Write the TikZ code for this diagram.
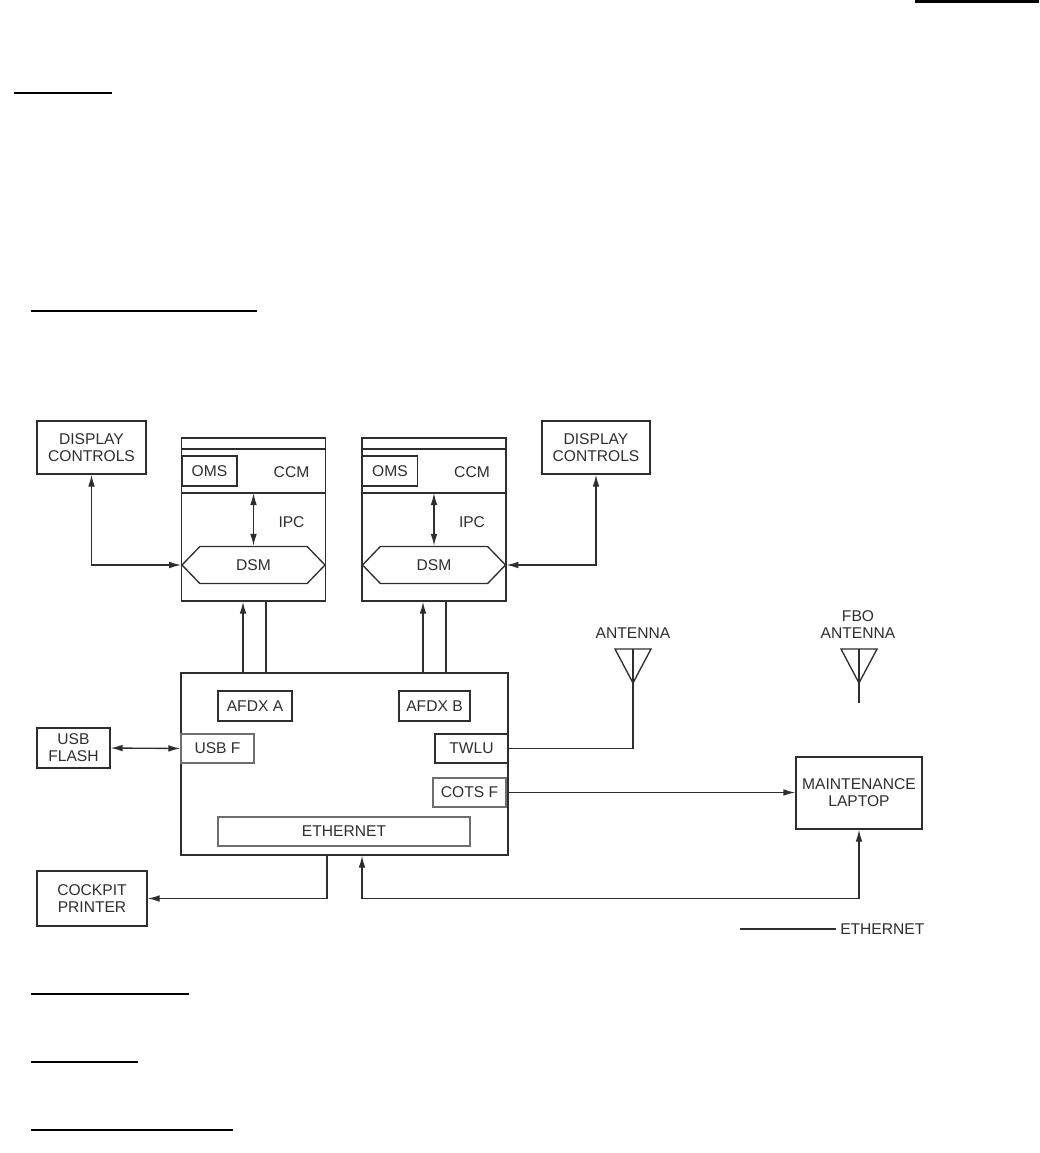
\documentclass[tikz,border=0pt]{standalone}
\usepackage{fontspec}
\setmainfont{Liberation Sans}
\usetikzlibrary{arrows.meta,shapes.symbols}
\definecolor{ink}{HTML}{2E2E2E}
\definecolor{pale}{HTML}{6E6E6E}
\newdimen\pxu \pxu=0.75pt
\newcommand\lab{\fontsize{11.7}{12.6}\selectfont}
\tikzset{
  link/.style={draw=ink, line width=1pt},
  arr/.style={link, -{Latex[length=9pt,width=5pt]}},
  both/.style={link, {Latex[length=9pt,width=5pt]}-{Latex[length=9pt,width=5pt]}},
  unit/.style={draw=ink, line width=1pt, inner sep=0pt, align=center, font=\lab, text=ink},
  port/.style={unit, draw=pale},
  sz/.style args={#1x#2}{minimum width=#1\pxu, minimum height=#2\pxu},
  txt/.style={font=\lab, text=ink, inner sep=0pt, align=center},
  dsm/.style={unit, shape=signal, signal to=west and east, signal pointer angle=92,
    minimum width=143\pxu, minimum height=37\pxu},
  bar/.style={draw=black, line width=1.6pt},
}
\begin{document}
\begin{tikzpicture}[x=0.75pt,y=-0.75pt]
  \useasboundingbox (0,0) rectangle (1039,1153);
  % page rules
  \draw[bar, line width=2.2pt] (915,1.5) -- (1039,1.5);
  \draw[bar] (14,93) -- (112,93);
  \draw[bar] (31,311) -- (257,311);
  \draw[bar] (31,994) -- (189,994);
  \draw[bar, line width=2pt] (31,1062) -- (138,1062);
  \draw[bar] (31,1130) -- (233,1130);

  % display controls
  \node[unit, sz=109x53] (dcL) at (91.5,447.5) {DISPLAY\\CONTROLS};
  \node[unit, sz=108x53] (dcR) at (596,447.5) {DISPLAY\\CONTROLS};

  % CCM cabinets
  \path (0,449) coordinate (r1) (0,493) coordinate (r2);
  \foreach \s/\cx in {L/253.5,R/434}{
    \node[unit, sz=144x163] (ccm\s) at (\cx,519.5) {};
    \draw[link] (ccm\s.west |- r1) -- (ccm\s.east |- r1);
    \draw[link] (ccm\s.west |- r2) -- (ccm\s.east |- r2);
    \node[unit, sz=55x30] (oms\s) at (\cx-44,471) {OMS};
    \node[txt] (ccmT\s) at (\cx+38,472) {CCM};
    \node[txt] (ipcT\s) at (\cx+38,522) {IPC};
    \node[dsm] (dsm\s) at (\cx,565) {DSM};
    \draw[both] (ccm\s.center |- r2) -- (dsm\s.north);
  }
  \draw[both] (dcL.south) |- (dsmL.west);
  \draw[both] (dcR.south) |- (dsmR.east);

  % data concentrator
  \node[unit, sz=327x182] (mainB) at (344.5,764) {};
  \node[unit, sz=74x30] (afdxA) at (255,706) {AFDX A};
  \node[unit, sz=71x30] (afdxB) at (434.5,706) {AFDX B};
  \node[port, sz=73x29] (usbF) at (217.5,748.5) {USB F};
  \node[unit, sz=73x29] (twlu) at (471.5,748.5) {TWLU};
  \node[port, sz=73x29] (cotsF) at (469.5,792.5) {COTS F};
  \node[port, sz=252x29] (ethB) at (344,831.5) {ETHERNET};

  % peripherals
  \node[unit, sz=73x40] (usbFl) at (73.5,748) {USB\\FLASH};
  \node[unit, sz=110x55] (prn) at (92,898.5) {COCKPIT\\PRINTER};
  \node[unit, sz=126x72] (laptop) at (859,793) {MAINTENANCE\\LAPTOP};

  % buses
  \path (243,0) coordinate (xa1) (266,0) coordinate (xa2)
        (423,0) coordinate (xb1) (446,0) coordinate (xb2)
        (327,0) coordinate (xp) (362,0) coordinate (xe);
  \draw[arr] (mainB.north -| xa1) -- (ccmL.south -| xa1);
  \draw[link] (mainB.north -| xa2) -- (ccmL.south -| xa2);
  \draw[arr] (mainB.north -| xb1) -- (ccmR.south -| xb1);
  \draw[link] (mainB.north -| xb2) -- (ccmR.south -| xb2);
  \draw[both] (usbFl.east) -- (usbF.west);
  \draw[arr] (mainB.south -| xp) |- (prn.east);
  \draw[both] (mainB.south -| xe) |- (laptop.south |- prn.east) -- (laptop.south);
  \draw[arr] (cotsF.east) -- (cotsF.east -| laptop.west);

  % antennas
  \coordinate (antA) at (633,683);
  \coordinate (antB) at (859,683);
  \foreach \a in {antA,antB}{
    \draw[link] ([xshift=-13.5pt,yshift=25.5pt]\a) -- ([xshift=13.5pt,yshift=25.5pt]\a) -- (\a) -- cycle;
    \draw[link] ([yshift=25.5pt]\a) -- (\a);
  }
  \draw[link] (twlu.east) -| (antA);
  \draw[link] (antB) -- ++(0,20);
  \node[txt] (antLbl) at (633,633) {ANTENNA};
  \node[txt] (fboLbl) at (858,624.5) {FBO\\ANTENNA};

  % legend
  \coordinate (legA) at (740,929);
  \node[txt, anchor=west, inner sep=3pt] (legT) at (836,929) {ETHERNET};
  \draw[link] (legA) -- (legT.west);
\end{tikzpicture}
\end{document}
